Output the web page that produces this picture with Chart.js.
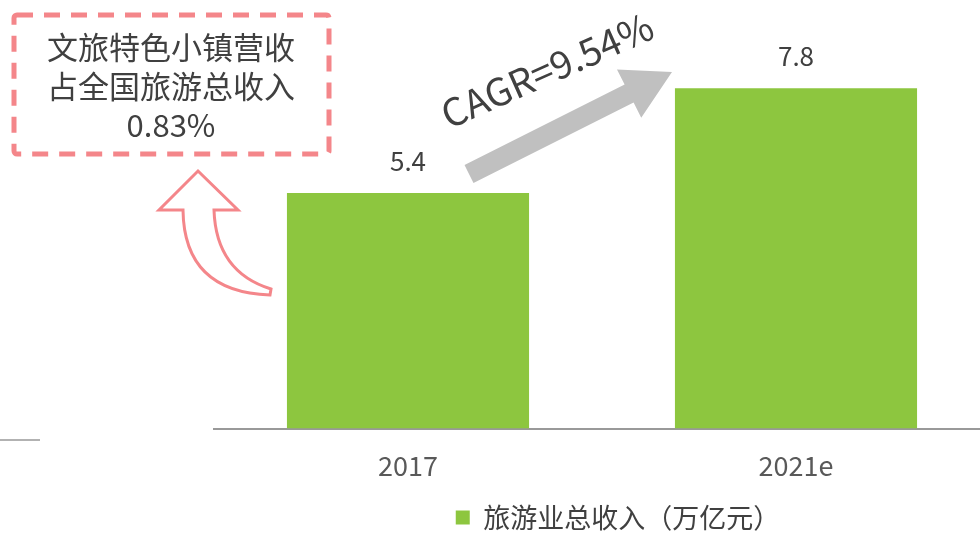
<!DOCTYPE html>
<html>
<head>
<meta charset="utf-8">
<script src="https://cdn.jsdelivr.net/npm/chart.js@4.4.0/dist/chart.umd.min.js"></script>
<style>
  html, body { margin: 0; padding: 0; background: #fff; overflow: hidden; }
  #wrap { width: 980px; height: 536px; overflow: hidden; }
</style>
</head>
<body>
<div id="wrap"><canvas id="chart" width="1000" height="536"></canvas></div>
<script>
const categories = ["2017", "2021e"];
const revenue = [5.4, 7.8];
const seriesName = "旅游业总收入（万亿元）";
const cagrText = "CAGR=9.54%";
const noteLines = ["文旅特色小镇营收", "占全国旅游总收入", "0.83%"];

const textColor = "#404040";
const barColor = "#8DC63F";
const pink = "#F4868A";
const fontCJK = "'Noto Sans CJK SC', 'Noto Sans', sans-serif";

const extras = {
    id: "extras",
    afterLayout(chart) {
        // nudge the legend a bit right, like the original
        if (chart.legend) {
            chart.legend.left += 16;
            chart.legend.right += 16;
        }
    },
    afterDraw(chart) {
        const ctx = chart.ctx;
        const meta = chart.getDatasetMeta(0);

        // value labels above bars
        ctx.save();
        ctx.fillStyle = textColor;
        ctx.font = "26px " + fontCJK;
        ctx.textAlign = "center";
        ctx.textBaseline = "bottom";
        meta.data.forEach((bar, i) => {
            ctx.fillText(revenue[i].toFixed(1), bar.x, bar.y - 19);
        });
        ctx.restore();

        // short line on the far left
        ctx.save();
        ctx.strokeStyle = "#999";
        ctx.lineWidth = 1.5;
        ctx.beginPath();
        ctx.moveTo(0, 440);
        ctx.lineTo(40, 440);
        ctx.stroke();
        ctx.restore();

        // dashed note box
        ctx.save();
        ctx.strokeStyle = pink;
        ctx.lineWidth = 5;
        ctx.setLineDash([16, 11]);
        ctx.beginPath();
        ctx.roundRect(14, 15, 315, 139, 3);
        ctx.stroke();
        ctx.setLineDash([]);
        ctx.fillStyle = textColor;
        ctx.font = "31px " + fontCJK;
        ctx.textAlign = "center";
        ctx.textBaseline = "middle";
        noteLines.forEach((line, i) => {
            ctx.fillText(line, 171, 47 + i * 39);
        });
        ctx.restore();

        // curved outline arrow pointing up to the box
        ctx.save();
        ctx.strokeStyle = pink;
        ctx.fillStyle = "#fff";
        ctx.lineWidth = 3;
        ctx.lineJoin = "miter";
        ctx.beginPath();
        ctx.moveTo(198, 171);
        ctx.lineTo(238, 210);
        ctx.lineTo(214, 210);
        ctx.quadraticCurveTo(216, 272, 271, 289);
        ctx.lineTo(270, 295);
        ctx.quadraticCurveTo(184, 292, 183, 210);
        ctx.lineTo(159, 210);
        ctx.closePath();
        ctx.fill();
        ctx.stroke();
        ctx.restore();

        // grey growth arrow
        const tx = 469, ty = 174, hx = 672, hy = 72;
        const ang = Math.atan2(hy - ty, hx - tx);
        const len = Math.hypot(hx - tx, hy - ty);
        ctx.save();
        ctx.translate(tx, ty);
        ctx.rotate(ang);
        ctx.fillStyle = "#C0C0C0";
        ctx.beginPath();
        ctx.moveTo(0, -10);
        ctx.lineTo(len - 48, -10);
        ctx.lineTo(len - 48, -27);
        ctx.lineTo(len, 0);
        ctx.lineTo(len - 48, 27);
        ctx.lineTo(len - 48, 10);
        ctx.lineTo(0, 10);
        ctx.closePath();
        ctx.fill();
        ctx.restore();

        // CAGR label
        ctx.save();
        ctx.translate(547, 70);
        ctx.rotate(-24 * Math.PI / 180);
        ctx.fillStyle = textColor;
        ctx.font = "38px " + fontCJK;
        ctx.textAlign = "center";
        ctx.textBaseline = "middle";
        ctx.fillText(cagrText, 0, 0);
        ctx.restore();
    }
};

new Chart(document.getElementById("chart"), {
    type: "bar",
    data: {
        labels: categories,
        datasets: [{
            label: seriesName,
            data: revenue,
            backgroundColor: barColor,
            barPercentage: 0.624,
            categoryPercentage: 1
        }]
    },
    options: {
        responsive: false,
        animation: false,
        layout: { padding: { left: 214, right: 10, top: 36, bottom: -5 } },
        plugins: {
            legend: {
                position: "bottom",
                fullSize: false,
                labels: {
                    color: textColor,
                    font: { size: 27, family: fontCJK },
                    boxWidth: 14,
                    boxHeight: 14,
                    padding: 4
                }
            },
            tooltip: { enabled: false }
        },
        scales: {
            x: {
                grid: { display: false },
                border: { color: "#999", width: 2 },
                ticks: {
                    color: "#595959",
                    font: { size: 27, family: fontCJK },
                    padding: 13
                },
                afterFit(scale) {
                    scale.height += 5;
                }
            },
            y: {
                display: false,
                min: 0,
                max: 9
            }
        }
    },
    plugins: [extras]
});
</script>
</body>
</html>
